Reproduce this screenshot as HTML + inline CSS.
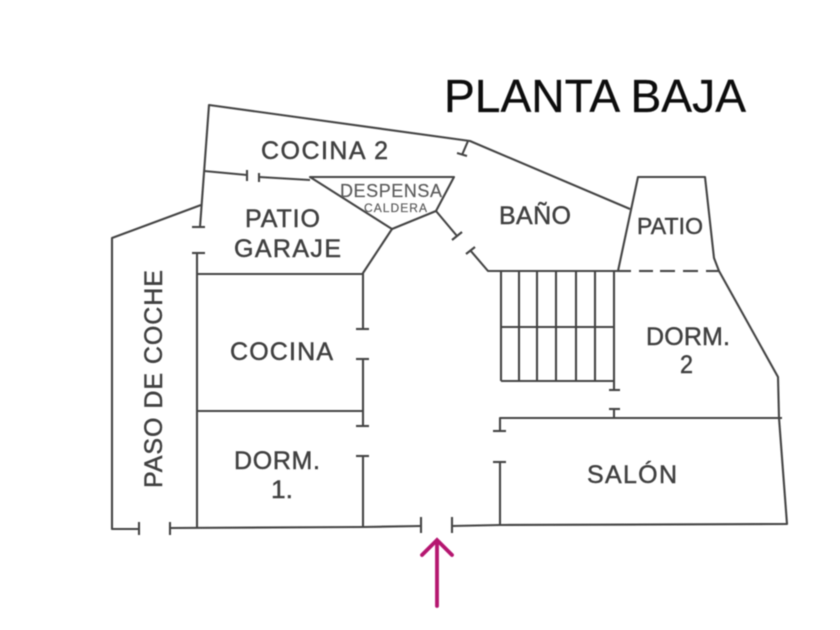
<!DOCTYPE html>
<html>
<head>
<meta charset="utf-8">
<style>
html,body{margin:0;padding:0;background:#fff;width:840px;height:630px;overflow:hidden}
svg{display:block}
text{font-family:"Liberation Sans",sans-serif;fill:#404040;stroke:#404040;stroke-width:0.45}
</style>
</head>
<body>
<svg width="840" height="630" viewBox="0 0 840 630" xmlns="http://www.w3.org/2000/svg">
<defs><filter id="b" filterUnits="userSpaceOnUse" x="0" y="0" width="840" height="630"><feGaussianBlur stdDeviation="0.4"/></filter></defs>
<g filter="url(#b)">
<g fill="none" stroke="#444" stroke-width="2.1" stroke-linejoin="round">
  <polyline points="200,227 209,105 470,141 630,209"/>
  <line x1="192" y1="227" x2="205" y2="227"/>
  <polyline points="201,205 112,238 112,529 139,529"/>
  <line x1="139" y1="522" x2="139" y2="535"/>
  <line x1="170" y1="522" x2="170" y2="535"/>
  <polyline points="170,528 363,527 421,526"/>
  <line x1="421" y1="517" x2="421" y2="533"/>
  <line x1="452" y1="517" x2="452" y2="533"/>
  <polyline points="452,526 500,525 787,524 779,418 778,377 719,271 714,258 705,177 638,177 618,271"/>
  <line x1="468" y1="141" x2="462" y2="155"/>
  <line x1="457" y1="153" x2="467" y2="156"/>
  <line x1="204" y1="171" x2="247" y2="175"/>
  <line x1="247" y1="170" x2="247" y2="181"/>
  <line x1="259" y1="173" x2="259" y2="182"/>
  <line x1="259" y1="177" x2="310" y2="180"/>
  <polygon points="310,177 454,177 436,211 392,229"/>
  <polyline points="392,229 363,273 363,329"/>
  <line x1="356" y1="329" x2="369" y2="329"/>
  <line x1="356" y1="359" x2="369" y2="359"/>
  <line x1="363" y1="359" x2="363" y2="426"/>
  <line x1="356" y1="426" x2="369" y2="426"/>
  <line x1="356" y1="456" x2="369" y2="456"/>
  <line x1="363" y1="456" x2="363" y2="527"/>
  <line x1="436" y1="211" x2="457" y2="236"/>
  <line x1="452" y1="240" x2="462" y2="232"/>
  <line x1="466" y1="254" x2="475" y2="247"/>
  <polyline points="470,250 488,271 618,271"/>
  <line x1="192" y1="253" x2="205" y2="253"/>
  <line x1="197" y1="253" x2="197" y2="527"/>
  <line x1="197" y1="274" x2="363" y2="274"/>
  <line x1="197" y1="411" x2="363" y2="411"/>
  <line x1="501" y1="271" x2="501" y2="381"/>
  <line x1="519" y1="271" x2="519" y2="381"/>
  <line x1="537" y1="271" x2="537" y2="381"/>
  <line x1="556" y1="271" x2="556" y2="381"/>
  <line x1="576" y1="271" x2="576" y2="381"/>
  <line x1="595" y1="271" x2="595" y2="381"/>
  <line x1="614" y1="271" x2="614" y2="390"/>
  <line x1="501" y1="327" x2="614" y2="327"/>
  <line x1="501" y1="381" x2="614" y2="381"/>
  <line x1="609" y1="390" x2="620" y2="390"/>
  <line x1="609" y1="409" x2="620" y2="409"/>
  <line x1="614" y1="409" x2="614" y2="418"/>
  <polyline points="500,431 500,418 782,418"/>
  <line x1="493" y1="431" x2="506" y2="431"/>
  <line x1="493" y1="462" x2="506" y2="462"/>
  <line x1="500" y1="462" x2="500" y2="525"/>
  <line x1="618" y1="271" x2="631" y2="271"/>
  <line x1="639" y1="271" x2="653" y2="271"/>
  <line x1="660" y1="271" x2="675" y2="271"/>
  <line x1="683" y1="271" x2="698" y2="271"/>
  <line x1="706" y1="271" x2="719" y2="271"/>
</g>
<g fill="none" stroke="#b5146f" stroke-width="3.8" stroke-linecap="round" stroke-linejoin="miter">
  <line x1="437" y1="606" x2="437" y2="541"/>
  <polyline points="422,555 437,540 452,555"/>
</g>
<text x="444" y="112" font-size="46" textLength="302" lengthAdjust="spacingAndGlyphs" style="fill:#111;stroke:#111;stroke-width:0.3">PLANTA BAJA</text>
<text x="261" y="159" font-size="25" textLength="127" lengthAdjust="spacing">COCINA 2</text>
<text x="340" y="197" font-size="18" textLength="102" lengthAdjust="spacing" style="fill:#5c5c5c;stroke:#5c5c5c;stroke-width:0.2">DESPENSA</text>
<text x="364" y="212" font-size="12" textLength="63" lengthAdjust="spacing" style="fill:#5c5c5c;stroke:#5c5c5c;stroke-width:0.2">CALDERA</text>
<text x="245" y="227" font-size="25" textLength="75" lengthAdjust="spacing">PATIO</text>
<text x="234" y="257" font-size="25" textLength="107" lengthAdjust="spacing">GARAJE</text>
<text x="499" y="224" font-size="25" textLength="72" lengthAdjust="spacing">BAÑO</text>
<text x="637" y="234" font-size="23" textLength="66" lengthAdjust="spacing">PATIO</text>
<text x="646" y="345" font-size="25" textLength="84" lengthAdjust="spacing">DORM.</text>
<text x="680" y="373" font-size="25" textLength="13" lengthAdjust="spacingAndGlyphs">2</text>
<text x="230" y="360" font-size="25" textLength="103" lengthAdjust="spacing">COCINA</text>
<text x="234" y="469" font-size="25" textLength="86" lengthAdjust="spacing">DORM.</text>
<text x="271" y="498" font-size="25" textLength="22" lengthAdjust="spacingAndGlyphs">1.</text>
<text x="587" y="483" font-size="25" textLength="90" lengthAdjust="spacing">SALÓN</text>
<text transform="translate(162,488) rotate(-90)" x="0" y="0" font-size="25" textLength="218" lengthAdjust="spacing">PASO DE COCHE</text>
</g>
</svg>
</body>
</html>
